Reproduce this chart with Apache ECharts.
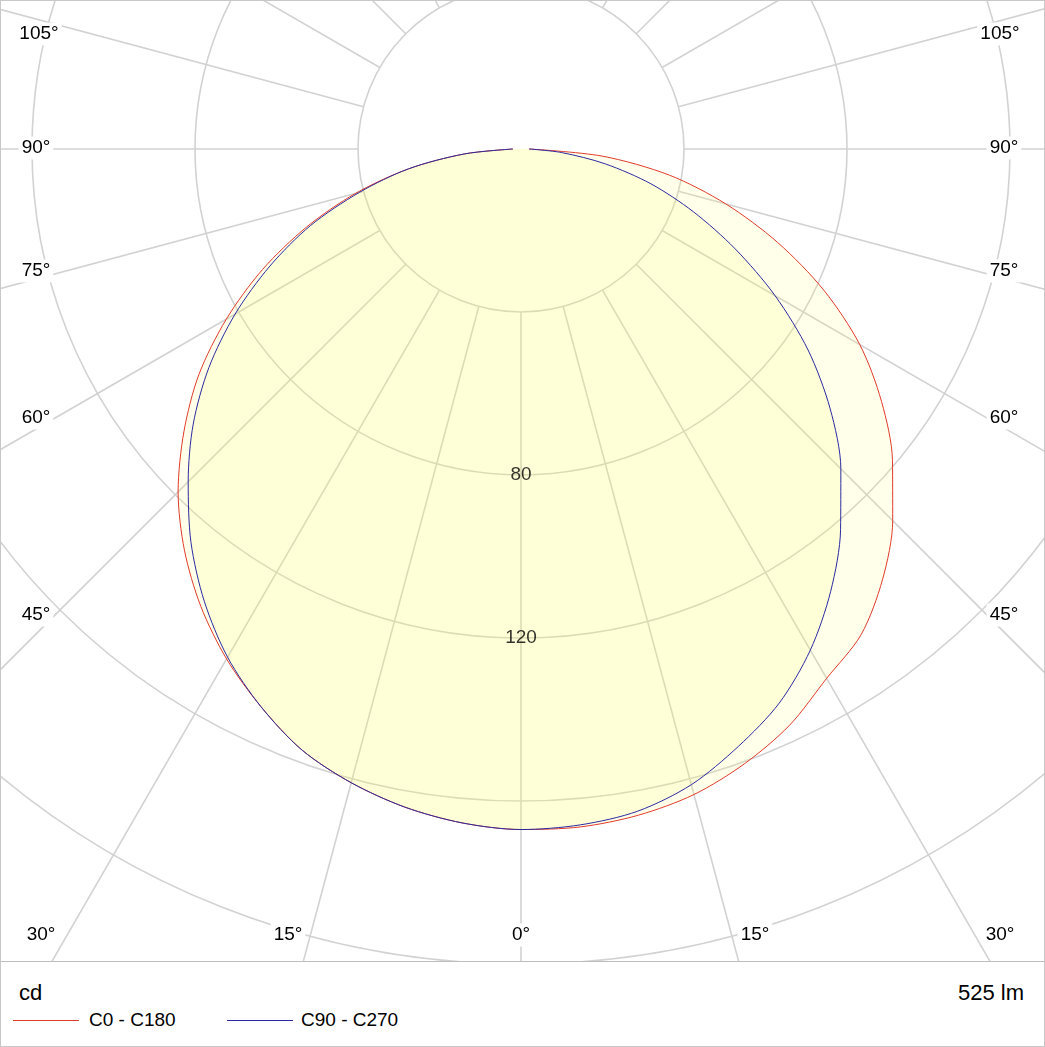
<!DOCTYPE html>
<html><head><meta charset="utf-8">
<script src="https://cdn.jsdelivr.net/npm/echarts@6/dist/echarts.min.js"></script>
<style>
body{margin:0;background:#fff;font-family:"Liberation Sans",Arial,sans-serif;}
#wrap{position:relative;width:1045px;height:1047px;box-sizing:border-box;border:1px solid #c8c8c8;overflow:hidden;}
#chart{position:absolute;left:0;top:0;width:1045px;height:960px;}
#bottom{position:absolute;left:0;top:960px;width:1045px;height:87px;border-top:1px solid #bdbdbd;}
.t{position:absolute;color:#000;white-space:nowrap;}
.ln{position:absolute;height:0;border-top:1px solid;}
</style></head><body>
<div id="wrap"><div id="chart"></div>
<div id="bottom">
<div class="t" style="left:18px;top:18px;font-size:22px;">cd</div>
<div class="t" style="right:22px;top:18px;font-size:22px;">525 lm</div>
<div class="ln" style="left:12px;top:58px;width:66px;border-color:#e03a2a;"></div>
<div class="t" style="left:88px;top:47px;font-size:19px;">C0 - C180</div>
<div class="ln" style="left:226px;top:58px;width:66px;border-color:#2a2aa0;"></div>
<div class="t" style="left:300px;top:47px;font-size:19px;">C90 - C270</div>
</div></div>
<script>
const gammas = [0,5,10,15,20,25,30,35,40,45,50,55,60,65,70,75,80,85,90];
const c0   = [167,167,166,164,160.5,156,150,145.5,138,129,119,108,96,82,67,52,37,20,2];
const c180 = [167,166,164,161,157,151,144.5,137,128.5,119,108,96.5,83.5,70,56,42,28,14,2];
const c90  = [167,166.5,165,161.5,156,150,142,132.5,122,111,99,86,72,58,45,33,21,10,2];
const c270 = [167,166,164,161,157,151,144,135.5,126,115.5,105,93.5,81,68,55,41,28,14,2];
const ringTicks = [80,120];
const spokeAngles = [];
for (let a = 0; a < 360; a += 15) spokeAngles.push(a);
const angleLabels = [
  {t:'0°',x:520,y:934},{t:'15°',x:287,y:934},{t:'30°',x:40,y:934},{t:'15°',x:754,y:934},{t:'30°',x:999,y:934},
  {t:'45°',x:35,y:614},{t:'60°',x:35,y:417},{t:'75°',x:35,y:270},{t:'90°',x:35,y:147},{t:'105°',x:38,y:33},
  {t:'45°',x:1003,y:614},{t:'60°',x:1003,y:417},{t:'75°',x:1003,y:270},{t:'90°',x:1003,y:147},{t:'105°',x:999,y:33}
];
function curve(right,left){
  const pts=[];
  for(let i=gammas.length-1;i>=0;i--) pts.push([left[i],360-gammas[i]]);
  for(let i=0;i<gammas.length;i++) pts.push([right[i],gammas[i]]);
  return pts;
}
const chart = echarts.init(document.getElementById('chart'),null,{renderer:'canvas'});
const series = [];
spokeAngles.forEach(a=>{
  series.push({type:'line',coordinateSystem:'polar',data:[[40,a],[240,a]],symbol:'none',silent:true,
    lineStyle:{color:'#d2d2d2',width:1.6},z:1});
});
series.push({type:'line',coordinateSystem:'polar',data:curve(c0,c180),symbol:'none',smooth:0.3,
  lineStyle:{color:'#e03a2a',width:1},areaStyle:{color:'rgba(255,255,75,0.17)'},z:3});
series.push({type:'line',coordinateSystem:'polar',data:curve(c90,c270),symbol:'none',smooth:0.3,
  lineStyle:{color:'#2a2aa0',width:1},areaStyle:{color:'rgba(255,255,75,0.17)'},z:4});
series.push({type:'scatter',coordinateSystem:'polar',data:ringTicks.map(r=>[r,0]),symbolSize:0,z:5,
  label:{show:true,position:'inside',formatter:p=>String(p.value[0]),color:'#000',fontSize:19,fontFamily:'Liberation Sans'}});
chart.setOption({
  animation:false,
  polar:{center:[520,148],radius:978},
  angleAxis:{type:'value',min:0,max:360,startAngle:270,clockwise:false,
    axisLine:{show:false},axisTick:{show:false},axisLabel:{show:false},splitLine:{show:false}},
  radiusAxis:{type:'value',min:0,max:240,interval:40,axisLine:{show:false},axisTick:{show:false},
    axisLabel:{show:false},splitLine:{show:true,lineStyle:{color:'#d2d2d2',width:1.6}}},
  graphic: angleLabels.map(l=>({type:'text',x:l.x,y:l.y,z:10,style:{text:l.t,fontSize:19,fontFamily:'Liberation Sans',
    fill:'#000',align:'center',verticalAlign:'middle',backgroundColor:'#fff',padding:[2,3]}})),
  series
});
</script></body></html>
